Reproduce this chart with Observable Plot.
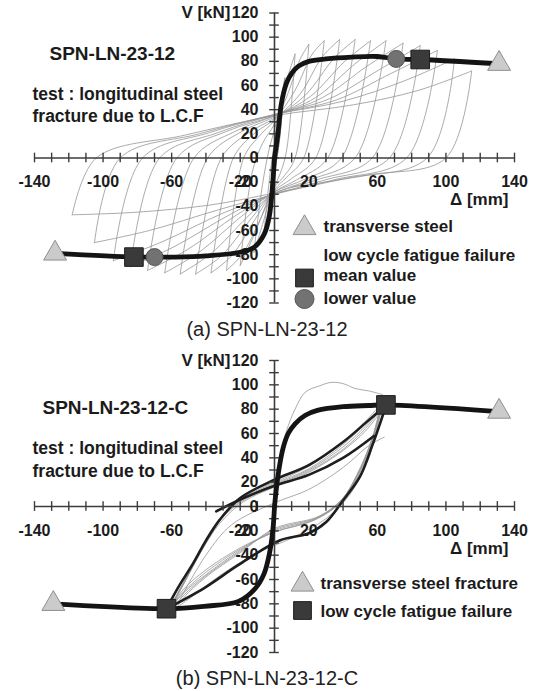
<!DOCTYPE html>
<html>
<head>
<meta charset="utf-8">
<script src="https://cdn.jsdelivr.net/npm/d3@7"></script>
<script src="https://cdn.jsdelivr.net/npm/@observablehq/plot@0.6"></script>
<style>
  html, body { margin: 0; padding: 0; background: #fff; }
  body { position: relative; width: 534px; height: 691px; overflow: hidden;
         font-family: "Liberation Sans", Arial, sans-serif; }
  .panel { position: absolute; left: 0; width: 534px; }
  .caption { position: absolute; left: 0; width: 534px; text-align: center;
             font-size: 20px; color: #222; line-height: 20px; }
</style>
</head>
<body>
<div id="panelA" class="panel" style="top:0"></div>
<div class="caption" style="top:319px">(a) SPN-LN-23-12</div>
<div id="panelB" class="panel" style="top:345px"></div>
<div class="caption" style="top:668px">(b) SPN-LN-23-12-C</div>
<script>
// ---- axis labels -----------------------------------------------------------
const xLabels = [-140, -100, -60, -20, 20, 60, 100, 140];
const yLabels = [120, 100, 80, 60, 40, 20, 0, -20, -40, -60, -80, -100, -120];

// ---- (a) SPN-LN-23-12 : cyclic test, increasing amplitude ------------------
// each branch is a list of [displacement mm, shear kN]
const loopsA = [
  [[0,0],[2,22],[4,44],[6,66]],
  [[6,66],[3,16],[0,-12],[-3,-38],[-6,-60]],
  [[-6,-60],[-3,-18],[0,14],[3,42],[6,66]],
  [[6,66],[3,16],[0,-12],[-5,-45],[-12,-78]],
  [[-12,-78],[-7,-22],[-3,8],[2,34],[7,64],[12,86]],
  [[12,86],[7,6],[3,-14],[-3,-32],[-12,-64],[-20,-89]],
  [[-20,-89],[-13,-12],[-7,12],[0,28],[8,54],[15,82],[20,94]],
  [[20,94],[12,0],[5,-16],[0,-24],[-8,-50],[-19,-80],[-28,-93]],
  [[-28,-93],[-18,0],[-9,18],[0,31],[12,56],[22,86],[29,97]],
  [[29,97],[17,0],[7,-16],[0,-26],[-11,-50],[-25,-81],[-37,-95]],
  [[-37,-95],[-24,0],[-12,20],[0,32],[15,53],[28,84],[38,98]],
  [[38,98],[24,0],[10,-17],[0,-27],[-13,-49],[-31,-81],[-46,-96]],
  [[-46,-96],[-31,0],[-15,21],[0,33],[18,52],[35,83],[47,98]],
  [[47,98],[31,0],[13,-18],[0,-28],[-16,-49],[-37,-79],[-55,-96]],
  [[-55,-96],[-39,0],[-19,22],[0,34],[21,51],[41,80],[56,97]],
  [[56,97],[39,0],[17,-18],[0,-28],[-19,-48],[-44,-78],[-64,-95]],
  [[-64,-95],[-47,0],[-23,22],[0,35],[24,50],[47,78],[65,97]],
  [[65,97],[47,0],[21,-18],[0,-29],[-22,-47],[-51,-76],[-74,-93]],
  [[-74,-93],[-57,0],[-28,22],[0,35],[28,50],[54,76],[75,95]],
  [[75,95],[57,0],[25,-18],[0,-29],[-25,-46],[-58,-73],[-84,-90]],
  [[-84,-90],[-67,0],[-33,21],[0,36],[32,49],[61,73],[85,93]],
  [[85,93],[67,0],[30,-18],[0,-30],[-29,-45],[-65,-69],[-94,-85]],
  [[-94,-85],[-77,0],[-38,21],[0,36],[36,48],[68,70],[95,89]],
  [[95,89],[77,0],[35,-18],[0,-30],[-33,-43],[-73,-60],[-105,-70]],
  [[-105,-70],[-90,0],[-44,20],[0,36],[40,47],[76,64],[105,82]],
  [[105,82],[89,0],[41,-17],[0,-29],[-38,-39],[-82,-45],[-118,-47]],
  [[-118,-47],[-104,0],[-52,19],[0,35],[46,44],[84,56],[115,72]],
  [[115,72],[100,0],[55,-14],[10,-24]]
];
// backbone (envelope) curve
const skeletonA = [
  [[0,0],[2,20],[4,45],[7,62],[10,70],[14,76],[20,80],[30,82],[45,83.5],[60,84],[71,82],[85,81.5],[131,78]],
  [[0,0],[-1,-20],[-3,-48],[-6,-63],[-12,-74],[-20,-78],[-40,-81],[-58,-82],[-70,-82],[-82,-82],[-128,-79]]
];
const triangleA = [[131,78],[-128,-79]];   // transverse steel
const squareA   = [[85,81.5],[-82,-82]];   // L.C.F. mean value
const circleA   = [[71,82],[-70,-82]];     // L.C.F. lower value

// ---- (b) SPN-LN-23-12-C : constant amplitude cycles -------------------------
const loopsB = [
  [[0,0],[3,38],[7,62],[12,80],[18,94],[26,99],[33,102],[40,101],[47,97],[55,95],[63,92]],
  [[-62,-86],[-54,-66],[-44,-40],[-32,-14],[-18,4],[0,16],[20,28],[40,46],[53,62],[62,78]],
  [[62,78],[56,48],[46,18],[36,0],[22,-12],[0,-21],[-20,-34],[-40,-52],[-53,-68],[-61,-84]],
  [[-61,-84],[-53,-62],[-43,-36],[-31,-10],[-17,6],[0,17],[20,29],[40,47],[53,64],[62,80]],
  [[62,80],[56,50],[46,20],[37,2],[23,-11],[0,-21],[-20,-35],[-40,-54],[-53,-70],[-62,-85]],
  [[-62,-85],[-52,-60],[-42,-34],[-30,-8],[-16,8],[0,18],[20,30],[40,49],[53,66],[62,81]],
  [[62,81],[56,52],[47,22],[38,3],[24,-10],[0,-20],[-20,-36],[-40,-56],[-53,-71],[-62,-86]],
  [[-62,-86],[-51,-58],[-41,-32],[-29,-6],[-15,10],[0,19],[20,31],[40,51],[53,68],[62,82]],
  [[62,82],[57,54],[48,24],[39,5],[25,-9],[0,-19],[-20,-37],[-40,-57],[-53,-73],[-62,-88]],
  [[-62,-88],[-50,-56],[-40,-30],[-28,-4],[-14,12],[0,20],[20,33],[40,53],[53,70],[62,84]],
  [[62,84],[57,56],[48,26],[40,7],[26,-8],[0,-18],[-20,-38],[-40,-58],[-53,-75],[-60,-90]],
  [[-55,-76],[-40,-40],[-25,-15],[0,3],[20,14],[40,32],[55,50],[64,57]],
  [[62,78],[55,40],[44,10],[30,-10],[10,-26],[-10,-38],[-30,-55],[-48,-74],[-56,-82]]
];
// highlighted branches of the last cycles
const darkB = [
  [[-63,-84],[-56,-66],[-48,-48],[-40,-28],[-32,-11],[-20,7],[0,22],[20,34],[40,53],[55,71],[65,83]],
  [[65,83],[62,70],[57,50],[50,25],[40,5],[30,-13],[20,-22],[3,-28],[-21,-48],[-41,-67],[-63,-84]],
  [[-34,-4],[-18,7],[0,17],[20,26],[40,40],[58,58]]
];
const skeletonB = [
  [[0,0],[2,25],[5,48],[8,60],[12,68],[18,75],[25,79],[40,82],[55,83],[65,83.5],[131,78]],
  [[0,0],[-1,-20],[-3,-39],[-6,-55],[-11,-67],[-21,-78],[-41,-82],[-63,-84],[-129,-80]]
];
const triangleB = [[131,78],[-129,-80]];   // transverse steel fracture
const squareB   = [[65,83.5],[-63,-84]];   // low cycle fatigue failure

// ---- drawing -----------------------------------------------------------------
const FONT = "'Liberation Sans', Arial, sans-serif";
const TXT = "#1b1b1b";
const TRI = {fill: "#cbcbcb", stroke: "#8f8f8f", strokeWidth: 1};
const SQR = {fill: "#3a3a3a", stroke: "#1e1e1e", strokeWidth: 1};
const CIR = {fill: "#727272", stroke: "#555", strokeWidth: 1};

const toRows = (branches) =>
  branches.flatMap((b, i) => b.map(([x, y]) => ({x, y, branch: i})));
const toPts = (pts) => pts.map(([x, y]) => ({x, y}));

function axesMarks() {
  const xt = d3.range(-140, 141, 10);
  const yt = d3.range(-120, 121, 10);
  return [
    Plot.ruleY([0], {x1: -140, x2: 140, stroke: "#3c3c3c", strokeWidth: 1.6}),
    Plot.ruleX([0], {y1: -120, y2: 120, stroke: "#3c3c3c", strokeWidth: 1.6}),
    Plot.ruleX(xt, {x: d => d, y1: -4, y2: 4, stroke: "#3c3c3c", strokeWidth: 1.4}),
    Plot.ruleY(yt, {y: d => d, x1: -2.8, x2: 2.8, stroke: "#3c3c3c", strokeWidth: 1.4}),
    Plot.text(xLabels, {x: d => d, y: 0, dy: 24, text: d => String(d),
      fontSize: 16, fontWeight: "bold", fill: TXT}),
    Plot.text(yLabels, {x: 0, y: d => d, dx: -16, text: d => String(d), textAnchor: "end",
      fontSize: 16, fontWeight: "bold", fill: TXT}),
    Plot.text(["V [kN]"], {x: 0, y: 120, dx: -44, textAnchor: "end",
      fontSize: 17, fontWeight: "bold", fill: TXT}),
    Plot.text(["\u0394 [mm]"], {x: 140, y: 0, dx: -6, dy: 42, textAnchor: "end",
      fontSize: 17, fontWeight: "bold", fill: TXT})
  ];
}

function note(lines) {
  // free text placed relative to the origin, in pixels
  return lines.map(([t, dx, dy, size]) =>
    Plot.text([t], {x: 0, y: 0, dx, dy, textAnchor: "start", fontSize: size,
      fontWeight: "bold", fill: TXT}));
}

function legendDot(symbol, style, r, dx, dy) {
  return Plot.dot([0], {x: 0, y: 0, dx, dy, symbol, r, ...style});
}

function frame(marks, opts) {
  return Plot.plot({
    width: 534,
    height: 320,
    marginLeft: 34,
    marginRight: 20,
    marginTop: opts.marginTop,
    marginBottom: opts.marginBottom,
    x: {domain: [-140, 140], axis: null},
    y: {domain: [-120, 120], axis: null},
    style: {background: "transparent", fontFamily: FONT, overflow: "visible"},
    marks
  });
}

// panel (a)
const plotA = frame([
  Plot.line(toRows(loopsA), {x: "x", y: "y", z: "branch", curve: "catmull-rom",
    stroke: "#969696", strokeWidth: 0.8}),
  ...axesMarks(),
  Plot.line(toRows(skeletonA), {x: "x", y: "y", z: "branch", curve: "catmull-rom",
    stroke: "#141414", strokeWidth: 4.8, strokeLinejoin: "round"}),
  Plot.dot(toPts(triangleA), {x: "x", y: "y", symbol: "triangle", r: 8.5, ...TRI}),
  Plot.dot(toPts(squareA), {x: "x", y: "y", symbol: "square", r: 10.5, ...SQR}),
  Plot.dot(toPts(circleA), {x: "x", y: "y", symbol: "circle", r: 8.5, ...CIR}),
  ...note([
    ["SPN-LN-23-12", -225, -104, 19],
    ["test : longitudinal steel", -242, -64, 17.5],
    ["fracture due to L.C.F", -242, -41.5, 17.5],
    ["transverse steel", 49, 69, 17],
    ["low cycle fatigue failure", 49, 97.5, 17],
    ["mean value", 49, 118, 17],
    ["lower value", 49, 140.5, 17]
  ]),
  legendDot("triangle", TRI, 8.5, 30, 70),
  legendDot("square", SQR, 10, 30, 120),
  legendDot("circle", CIR, 9.5, 30, 141)
], {marginTop: 12.5, marginBottom: 17.5});
document.getElementById("panelA").append(plotA);

// panel (b)
const plotB = frame([
  Plot.line(toRows(loopsB), {x: "x", y: "y", z: "branch", curve: "catmull-rom",
    stroke: "#969696", strokeWidth: 0.8}),
  Plot.line(toRows(darkB), {x: "x", y: "y", z: "branch", curve: "catmull-rom",
    stroke: "#1e1e1e", strokeWidth: 2.6}),
  ...axesMarks(),
  Plot.line(toRows(skeletonB), {x: "x", y: "y", z: "branch", curve: "catmull-rom",
    stroke: "#141414", strokeWidth: 4.8, strokeLinejoin: "round"}),
  Plot.dot(toPts(triangleB), {x: "x", y: "y", symbol: "triangle", r: 8.5, ...TRI}),
  Plot.dot(toPts(squareB), {x: "x", y: "y", symbol: "square", r: 10.5, ...SQR}),
  ...note([
    ["SPN-LN-23-12-C", -232, -99, 19],
    ["test : longitudinal steel", -242, -58, 17.5],
    ["fracture due to L.C.F", -242, -35, 17.5],
    ["transverse steel fracture", 46, 77, 17],
    ["low cycle fatigue failure", 46, 105, 17]
  ]),
  legendDot("triangle", TRI, 8.5, 28, 78),
  legendDot("square", SQR, 10, 28, 104)
], {marginTop: 15, marginBottom: 13});
document.getElementById("panelB").append(plotB);
</script>
</body>
</html>
